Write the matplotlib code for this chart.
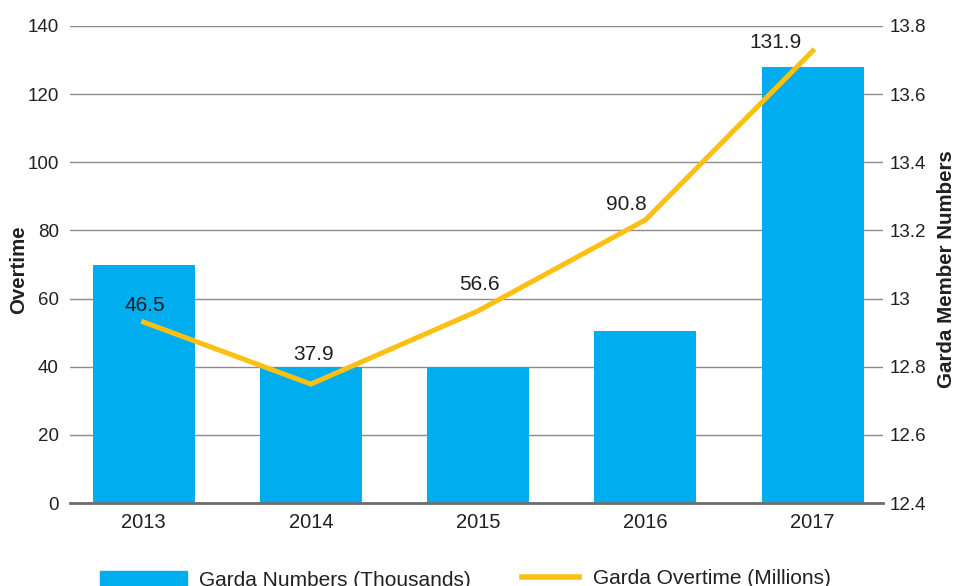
import numpy as np
import matplotlib.pyplot as plt
from matplotlib.patches import Rectangle
from matplotlib.lines import Line2D

plt.rcParams['font.family'] = ['Liberation Sans', 'DejaVu Sans']

years = ['2013', '2014', '2015', '2016', '2017']
garda_numbers = [13.10, 12.80, 12.80, 12.905, 13.68]   # thousands, right axis
overtime_line = [53.1, 34.9, 56.4, 83.1, 132.7]       # as drawn, left axis
overtime_labels = ['46.5', '37.9', '56.6', '90.8', '131.9']

left_ticks = [0, 20, 40, 60, 80, 100, 120, 140]
right_ticks = [12.4, 12.6, 12.8, 13.0, 13.2, 13.4, 13.6, 13.8]
right_tick_labels = ['12.4', '12.6', '12.8', '13', '13.2', '13.4', '13.6', '13.8']

blue = '#00aeef'
yellow = '#fcbf12'
txt = '#231f20'

fig = plt.figure(figsize=(9.55, 5.86), dpi=100)
ax = fig.add_axes([70/955, 1-503/586, 813/955, 477/586])
ax2 = ax.twinx()

x = np.arange(len(years))

# bars on the right axis, grid behind them
ax2.bar(x, np.array(garda_numbers) - 12.4, bottom=12.4, width=0.61, color=blue, zorder=2)
ax2.set_ylim(12.4, 13.8)
ax2.set_yticks(right_ticks)
ax2.set_yticklabels(right_tick_labels)
ax2.set_axisbelow(True)
ax2.grid(axis='y', color='#8c8c8c', linewidth=1.0)
ax2.tick_params(axis='y', length=0, pad=5, labelsize=13.5, labelcolor=txt)
ax2.set_ylabel('Garda Member Numbers', fontsize=14.8, fontweight='bold', color=txt)
ax2.yaxis.set_label_coords((937 - 70) / 813, 0.49)

# line on the left axis, drawn on top
ax.set_zorder(ax2.get_zorder() + 1)
ax.patch.set_visible(False)
ax.plot(x, overtime_line, color=yellow, linewidth=3.6, solid_joinstyle='miter')
ax.set_ylim(0, 140)
ax.set_yticks(left_ticks)
ax.tick_params(axis='y', length=0, pad=8, labelsize=13.5, labelcolor=txt)
ax.set_ylabel('Overtime', fontsize=14.8, fontweight='bold', color=txt)
ax.yaxis.set_label_coords((28 - 70) / 813, 0.49)

ax.set_xlim(-0.44, 4.42)
ax.set_xticks(x)
ax.set_xticklabels(years)
ax.tick_params(axis='x', length=0, pad=7, labelsize=14.5, labelcolor=txt)

offsets = [(1, 12), (2, 21), (1, 19), (-14, 11), (-27, 6)]
for xi, yi, lab, off in zip(x, overtime_line, overtime_labels, offsets):
    ax.annotate(lab, (xi, yi), xytext=off, textcoords='offset points',
                ha='center', va='center', fontsize=15, color=txt)

for a in (ax, ax2):
    for s in ('top', 'left', 'right'):
        a.spines[s].set_visible(False)
ax2.spines['bottom'].set_visible(False)
ax.spines['bottom'].set_color('#6d6d6d')
ax.spines['bottom'].set_linewidth(2)

# legend along the bottom edge
fig.patches.append(Rectangle((100/955, -0.02), 87/955, 0.02 + 15/586,
                             transform=fig.transFigure, color=blue))
fig.text(199/955, 1-581/586, 'Garda Numbers (Thousands)', fontsize=15,
         color=txt, va='center')
fig.lines.append(Line2D([522/955, 579/955], [1-577/586, 1-577/586],
                        transform=fig.transFigure, color=yellow, linewidth=4))
fig.text(593/955, 1-578/586, 'Garda Overtime (Millions)', fontsize=15,
         color=txt, va='center')

fig.savefig('out.png', dpi=100)
